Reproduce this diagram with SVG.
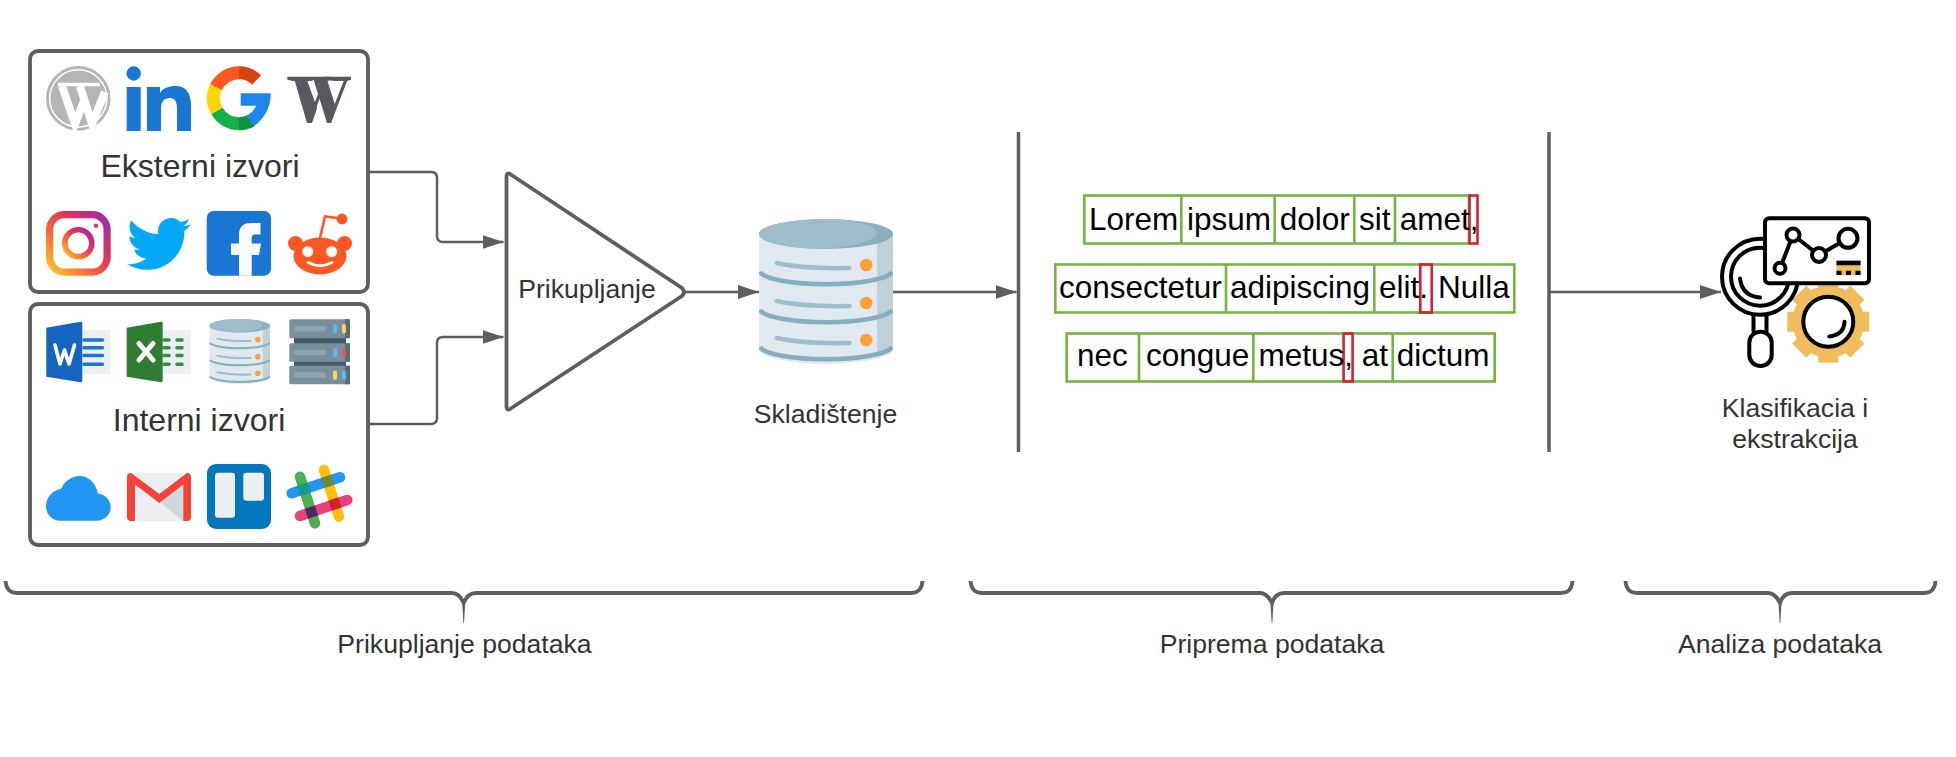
<svg xmlns="http://www.w3.org/2000/svg" width="1956" height="757" viewBox="0 0 1956 757">
<style>
text{font-family:"Liberation Sans",Arial,sans-serif}
.lbl{font-size:26.6px;fill:#333;text-anchor:middle}
.src{font-size:32px;fill:#333;text-anchor:middle}
.tok{font-size:31.5px;fill:#000}
.box{fill:#fff;stroke:#5e5e5e;stroke-width:3.8}
.conn{fill:none;stroke:#5e5e5e;stroke-width:2.5}
.sep{stroke:#5e5e5e;stroke-width:3.5}
.brace{fill:none;stroke:#5e5e5e;stroke-width:3.8}
.taper{fill:#5e5e5e}
.g{fill:none;stroke:#74b440;stroke-width:2.6}
.r{fill:none;stroke:#d2232f;stroke-width:2.6}
.k{fill:none;stroke:#000;stroke-width:4;stroke-linecap:round;stroke-linejoin:round}
.kw{fill:#fff;stroke:#000;stroke-width:4;stroke-linejoin:round}
</style>
<defs>
<marker id="arrow" markerUnits="userSpaceOnUse" markerWidth="22" markerHeight="16" refX="21" refY="7.5" orient="auto"><path d="M0 0.5L21 7.5L0 14.5Z" fill="#5e5e5e"/></marker>
<linearGradient id="ig" x1="0" y1="1" x2="1" y2="0"><stop offset="0" stop-color="#fdc82a"/><stop offset=".35" stop-color="#f7663a"/><stop offset=".65" stop-color="#dd3360"/><stop offset="1" stop-color="#9a2bab"/></linearGradient>
<symbol id="db" viewBox="0 0 135 145" preserveAspectRatio="none">
<path d="M0 15V130A67.5 15 0 0 0 135 130V15Z" fill="#dfe9ef"/>
<path d="M119 15H135V130A67.5 15 0 0 1 119 138Z" fill="#bfd0d8"/>
<ellipse cx="67.5" cy="15" rx="67.5" ry="15" fill="#8caebf"/>
<path d="M0 15A67.5 15 0 0 1 67.5 0C90 0 118 5 119 14C118 22 90 29 60 30A67.5 15 0 0 1 0 15Z" fill="#9dbdcb"/>
<g fill="none" stroke="#85aebf" stroke-width="4.5">
<path d="M1 53A67 14 0 0 0 134 53"/><path d="M1 91A67 14 0 0 0 134 91"/><path d="M1 128A67 14 0 0 0 134 128"/>
</g>
<g fill="none" stroke="#9dbdcb" stroke-width="4.5" stroke-linecap="round">
<path d="M18 44Q45 50 91 49"/><path d="M18 82Q45 88 91 87"/><path d="M18 119Q45 125 91 124"/>
</g>
<g fill="#ffa036"><ellipse cx="108" cy="46" rx="6.3" ry="6.3"/><ellipse cx="108" cy="84" rx="6.3" ry="6.3"/><ellipse cx="108" cy="121" rx="6.3" ry="6.3"/></g>
</symbol>
</defs>
<rect width="1956" height="757" fill="#fff"/>

<g id="connectors">
<path class="conn" d="M368 172H431Q437 172 437 178V236Q437 242 443 242H503.5" marker-end="url(#arrow)"/>
<path class="conn" d="M368 424H431Q437 424 437 418V343Q437 337 443 337H503.5" marker-end="url(#arrow)"/>
<path class="conn" d="M685 292H759" marker-end="url(#arrow)"/>
<path class="conn" d="M893 292H1016.5" marker-end="url(#arrow)"/>
<path class="conn" d="M1549 292H1721" marker-end="url(#arrow)"/>
</g>

<g id="external-sources">
<rect class="box" x="30" y="51" width="338" height="241" rx="8"/>
<text class="src" x="200" y="177">Eksterni izvori</text>
<g id="icon-wordpress">
<circle cx="78.3" cy="98.4" r="32.3" fill="#b5b5b5"/>
<circle cx="78.3" cy="98.4" r="28.6" fill="none" stroke="#fff" stroke-width="1.5"/>
<path d="M62 86L75 124L85 98M80 86L92 124L105 92" fill="none" stroke="#fff" stroke-width="8"/>
<path d="M58 84.5H88M80 84.5H100" fill="none" stroke="#fff" stroke-width="3.4"/>
</g>
<g id="icon-linkedin" fill="#1976d2">
<circle cx="133.7" cy="73.5" r="7.2"/><rect x="126.7" y="87" width="14" height="44"/>
<path d="M147 87H160V93C163 88 169 86 175 86C186 86 191 93 191 105V131H177V108C177 102 175 98 170 98C164 98 161 102 161 108V131H147Z"/>
</g>
<g id="icon-google" fill="none" stroke-width="13">
<path d="M216 87.2A25.5 25.5 0 0 0 217 111.1" stroke="#ffd600"/>
<path d="M216 87.2A25.5 25.5 0 0 1 239 72.8" stroke="#ff5722"/>
<path d="M239 72.8A25.5 25.5 0 0 1 256.7 80" stroke="#d84315"/>
<path d="M217 111.1A25.5 25.5 0 0 0 239 123.8" stroke="#13b04a"/>
<path d="M239 123.8A25.5 25.5 0 0 0 251.5 120.5" stroke="#0e9242"/>
<path d="M240.7 93.3H270.6C271.5 106 264 119 254 126L246.5 116C251 113 254.5 110 256 105.7H240.7Z" fill="#1e86eb" stroke="none"/>
</g>
<g id="icon-wikipedia" fill="#58585f">
<path d="M287.3 76.7H315V79.7L311 81H293L287.3 79.7Z"/>
<path d="M324 76.7H351V79.7L347 81H335L324 79.7Z"/>
<path d="M294.5 80H307L317 108L312 123H307Z"/>
<path d="M314 76.7H331V79.7L327.5 81L336 108L331 123H327L314 81Z"/>
<path d="M307 123H310.5L321 95L319.5 90Z"/>
<path d="M327.5 123H331L347.5 80H344Z"/>
</g>
<g id="icon-instagram" fill="none">
<rect x="49.6" y="214.6" width="57.5" height="57.5" rx="15" stroke="url(#ig)" stroke-width="7.2"/>
<circle cx="78.3" cy="243.3" r="13.5" stroke="url(#ig)" stroke-width="5.6"/>
<circle cx="96" cy="225.7" r="2.3" fill="#d8424f"/>
</g>
<path id="icon-twitter" fill="#03a9f4" transform="translate(127 212) scale(2.66)" d="M23.954 4.569c-.885.389-1.83.654-2.825.775 1.014-.611 1.794-1.574 2.163-2.723-.951.555-2.005.959-3.127 1.184-.896-.959-2.173-1.559-3.591-1.559-2.717 0-4.92 2.203-4.92 4.917 0 .39.045.765.127 1.124C7.691 8.094 4.066 6.13 1.64 3.161c-.427.722-.666 1.561-.666 2.475 0 1.71.87 3.213 2.188 4.096-.807-.026-1.566-.248-2.228-.616v.061c0 2.385 1.693 4.374 3.946 4.827-.413.111-.849.171-1.296.171-.314 0-.615-.03-.916-.086.631 1.953 2.445 3.377 4.604 3.417-1.68 1.319-3.809 2.105-6.102 2.105-.39 0-.779-.023-1.17-.067 2.189 1.394 4.768 2.209 7.557 2.209 9.054 0 13.999-7.496 13.999-13.986 0-.209 0-.42-.015-.63.961-.689 1.8-1.56 2.46-2.548l-.047-.02z"/>
<g id="icon-facebook">
<rect x="206.7" y="211" width="64.3" height="64.7" rx="7" fill="#1976d2"/>
<path fill="#fafafa" d="M239 275.7V255H231V243.5H239V235C239 226 244 223 251 223H260.5V234.5H255C252.5 234.5 251.7 236 251.7 238V243.5H261L259 255H251.7V275.7Z"/>
</g>
<g id="icon-reddit">
<path d="M320 238L325 216.5L341 218.5" fill="none" stroke="#ff5722" stroke-width="2.6"/>
<circle cx="342" cy="219" r="5.4" fill="#ff5722"/>
<circle cx="295.5" cy="243.5" r="7.5" fill="#ff5722"/><circle cx="344.5" cy="243.5" r="7.5" fill="#ff5722"/>
<ellipse cx="320" cy="256" rx="26.5" ry="18.5" fill="#ff5722"/>
<circle cx="307.7" cy="251.7" r="5.5" fill="#fff"/><circle cx="331.7" cy="251.7" r="5.5" fill="#fff"/>
<path d="M308 262.5Q320 269 332 262.5" fill="none" stroke="#fff" stroke-width="2.8" stroke-linecap="round"/>
</g>
</g>

<g id="internal-sources">
<rect class="box" x="30" y="304" width="338" height="241" rx="8"/>
<text class="src" x="199" y="431">Interni izvori</text>
<g id="icon-word">
<rect x="83" y="330" width="27.7" height="44" fill="#eceff3"/>
<path d="M46.3 327.7L80.5 321.7Q82.3 321.5 82.3 323V380.5Q82.3 382.5 80.5 382.3L46.3 376.7Z" fill="#1565c0"/>
<path d="M55 345L60 364L64.5 350L69 364L74.5 345" fill="none" stroke="#fff" stroke-width="3.6" stroke-linecap="round" stroke-linejoin="round"/>
<path d="M84 340H102.5M84 347.7H102.5M84 355.5H102.5M84 364.3H102.5" stroke="#1976d2" stroke-width="3.6" stroke-linecap="round"/>
</g>
<g id="icon-excel">
<rect x="163.5" y="330" width="27.7" height="44" fill="#eceff3"/>
<path d="M126.7 327.7L161 321.7Q162.7 321.5 162.7 323V380.5Q162.7 382.5 161 382.3L126.7 376.7Z" fill="#2e7d32"/>
<path d="M139 343.5L153 360M153 343.5L139 360" stroke="#fff" stroke-width="5" stroke-linecap="round"/>
<path d="M164 340H169M164 347.7H169M164 355.5H169M164 364.3H169M177 340H182M177 347.7H182M177 355.5H182M177 364.3H182" stroke="#388e3c" stroke-width="3.6" stroke-linecap="round"/>
</g>
<use id="icon-database" href="#db" x="209.3" y="319" width="60.7" height="65"/>
<g id="icon-servers">
<rect x="294" y="336" width="52" height="32" fill="#455a64"/>
<rect x="289.3" y="319.3" width="60.7" height="19" rx="1.5" fill="#78909c"/>
<rect x="289.3" y="343.3" width="60.7" height="18.5" rx="1.5" fill="#78909c"/>
<rect x="289.3" y="365.7" width="60.7" height="18.6" rx="1.5" fill="#78909c"/>
<path d="M345 319.3H350V338.3H345ZM345 343.3H350V361.8H345ZM345 365.7H350V384.3H345Z" fill="#546e7a"/>
<g fill="#90a4ae"><rect x="294" y="326" width="32" height="5.4" rx="2.7"/><rect x="294" y="349.8" width="32" height="5.4" rx="2.7"/><rect x="294" y="372.3" width="32" height="5.4" rx="2.7"/></g>
<rect x="333" y="324" width="4" height="9.5" rx="2" fill="#64b5f6"/><rect x="342" y="324" width="4" height="9.5" rx="2" fill="#fdd35a"/>
<rect x="333" y="348" width="4" height="9.5" rx="2" fill="#64b5f6"/><rect x="342" y="348" width="4" height="9.5" rx="2" fill="#ef5350"/>
<rect x="333" y="370.5" width="4" height="9.5" rx="2" fill="#fdd35a"/><rect x="342" y="370.5" width="4" height="9.5" rx="2" fill="#64b5f6"/>
</g>
<path id="icon-cloud" fill="#2196f3" d="M60 520.7H97C105 520.7 110.7 514 110.7 507.5C110.7 499 104 494 98 493.5C96 483 88 476 80 476C71 476 64 482 61 489C52 490 46 498 46 506.5C46 514 52 520.7 60 520.7Z"/>
<g id="icon-gmail">
<rect x="127" y="472.7" width="64" height="48.6" rx="4" fill="#eceff1"/>
<path d="M159.3 501.7L183.5 483.3V521H183.5Z" fill="#cfd8dc"/>
<path fill="#f44336" d="M127 477Q127 473 131 473L159.3 494L187 473Q191 473 191 477V517Q191 521 187 521H183.3V484.5L159.3 503L135 484.5V521H131Q127 521 127 517Z"/>
</g>
<g id="icon-trello">
<rect x="207" y="464" width="64" height="65" rx="9" fill="#0277bd"/>
<rect x="215" y="472.7" width="20" height="45" rx="3" fill="#eceff1"/>
<rect x="243.3" y="472.7" width="20.7" height="28" rx="3" fill="#eceff1"/>
</g>
<g id="icon-slack" stroke-width="10.5" stroke-linecap="round" fill="none">
<path d="M300 476.7L315 523.3" stroke="#4caf50"/>
<path d="M324 470L339 516.7" stroke="#ffc107"/>
<path d="M291.7 493.3L340 477.3" stroke="#2196f3"/>
<path d="M300 516L347.3 500" stroke="#ec407a"/>
<g stroke="none">
<rect x="-5.25" y="-5.25" width="10.5" height="10.5" transform="translate(304.1 489.2) rotate(-18.3)" fill="#1b9a8a"/>
<rect x="-5.25" y="-5.25" width="10.5" height="10.5" transform="translate(327.7 481.3) rotate(-18.3)" fill="#6d8b38"/>
<rect x="-5.25" y="-5.25" width="10.5" height="10.5" transform="translate(311.5 512.1) rotate(-18.3)" fill="#4a2c5e"/>
<rect x="-5.25" y="-5.25" width="10.5" height="10.5" transform="translate(334.9 504.2) rotate(-18.3)" fill="#d32030"/>
</g>
</g>
</g>

<g id="collect">
<path d="M506.5 177Q506.5 171 511.5 175L682 288Q686 292 682 296L511.5 408Q506.5 412 506.5 406Z" class="box" stroke-linejoin="round"/>
<text class="lbl" x="587" y="298">Prikupljanje</text>
</g>

<g id="storage">
<use href="#db" x="759" y="219" width="134" height="145"/>
<text class="lbl" x="825.5" y="423">Skladištenje</text>
</g>

<g id="separators">
<path class="sep" d="M1018.5 132V452"/>
<path class="sep" d="M1549 132V452"/>
</g>

<g id="tokens">
<g class="row">
<rect class="g" x="1084.3" y="195.5" width="384.7" height="48"/>
<path class="g" d="M1181.3 195.5V243.5M1274.7 195.5V243.5M1354.3 195.5V243.5M1395 195.5V243.5"/>
<rect class="r" x="1469.5" y="195.5" width="8" height="48"/>
<text class="tok" x="1089" y="230">Lorem</text><text class="tok" x="1187" y="230">ipsum</text><text class="tok" x="1279.7" y="230">dolor</text><text class="tok" x="1359" y="230">sit</text><text class="tok" x="1399.7" y="230">amet,</text>
</g>
<g class="row">
<rect class="g" x="1055.3" y="264.5" width="459" height="48"/>
<path class="g" d="M1226 264.5V312.5M1374.3 264.5V312.5"/>
<rect class="r" x="1420.3" y="264.5" width="11.4" height="48"/>
<text class="tok" x="1059" y="298">consectetur</text><text class="tok" x="1230" y="298">adipiscing</text><text class="tok" x="1379" y="298">elit.</text><text class="tok" x="1438" y="298">Nulla</text>
</g>
<g class="row">
<rect class="g" x="1066.7" y="333.5" width="428" height="48"/>
<path class="g" d="M1139 333.5V381.5M1253.3 333.5V381.5M1392.7 333.5V381.5"/>
<rect class="r" x="1343.6" y="333.5" width="9" height="48"/>
<text class="tok" x="1077" y="366">nec</text><text class="tok" x="1146" y="366">congue</text><text class="tok" x="1258.5" y="366">metus,</text><text class="tok" x="1361.7" y="366">at</text><text class="tok" x="1396.7" y="366">dictum</text>
</g>
</g>

<g id="analysis">
<g id="gear" fill="#f0bc5e" transform="translate(1828.3 321.7)">
<circle r="36"/>
<g id="teeth"><rect x="-10" y="-41" width="20" height="82"/><rect x="-10" y="-41" width="20" height="82" transform="rotate(45)"/><rect x="-10" y="-41" width="20" height="82" transform="rotate(90)"/><rect x="-10" y="-41" width="20" height="82" transform="rotate(135)"/></g>
</g>
<circle class="kw" cx="1828.3" cy="321.7" r="25"/>
<path class="k" d="M1829.3 336.5Q1844 335 1844.5 321.7"/>
<circle class="kw" cx="1760" cy="276.7" r="38"/>
<circle class="k" cx="1760" cy="276.7" r="29"/>
<path class="k" d="M1740 278.5Q1742 296 1760 297.5"/>
<path class="k" d="M1753.5 316V331.5M1766.5 316V331.5"/>
<rect class="k" x="1749.3" y="331.7" width="22.4" height="34.3" rx="11"/>
<rect class="kw" x="1765" y="218.3" width="104" height="65" rx="4"/>
<path class="k" d="M1780 268.3L1793 235L1819 255L1848 238.3"/>
<circle class="kw" cx="1780" cy="268.3" r="5.5"/><circle class="kw" cx="1793" cy="235" r="6.5"/><circle class="kw" cx="1819" cy="255" r="7"/><circle class="kw" cx="1848" cy="238.3" r="9.5"/>
<rect x="1836.5" y="260.7" width="24" height="14.3" fill="#f0bc5e"/>
<rect x="1836.5" y="260.7" width="24" height="4.5" fill="#000"/>
<path d="M1836.5 270.7H1841.5V275H1836.5ZM1846 270.7H1851V275H1846ZM1855.5 270.7H1860.5V275H1855.5Z" fill="#000"/>
<text class="lbl" x="1795" y="417">Klasifikacia i</text>
<text class="lbl" x="1795" y="448">ekstrakcija</text>
</g>

<g id="brace-collect">
<path class="brace" d="M5.5 581C6 589 10 593 17 593H452C458 593 461 597 463.7 603C466 597 469 593 476 593H911C918 593 922 589 922.5 581"/>
<path class="taper" d="M462 600H465.4L464 623H463.4Z"/>
<text class="lbl" x="464.5" y="653">Prikupljanje podataka</text>
</g>
<g id="brace-prepare">
<path class="brace" d="M970.5 581C971 589 975 593 982 593H1260C1266 593 1269 597 1272 603C1274 597 1277 593 1284 593H1561C1568 593 1572 589 1572.5 581"/>
<path class="taper" d="M1270.3 600H1273.7L1272.3 623H1271.7Z"/>
<text class="lbl" x="1272" y="653">Priprema podataka</text>
</g>
<g id="brace-analyze">
<path class="brace" d="M1625.5 581C1626 589 1630 593 1637 593H1768C1774 593 1777 597 1780 603C1782 597 1785 593 1792 593H1924C1931 593 1935 589 1935.5 581"/>
<path class="taper" d="M1778.3 600H1781.7L1780.3 623H1779.7Z"/>
<text class="lbl" x="1780" y="653">Analiza podataka</text>
</g>
</svg>
